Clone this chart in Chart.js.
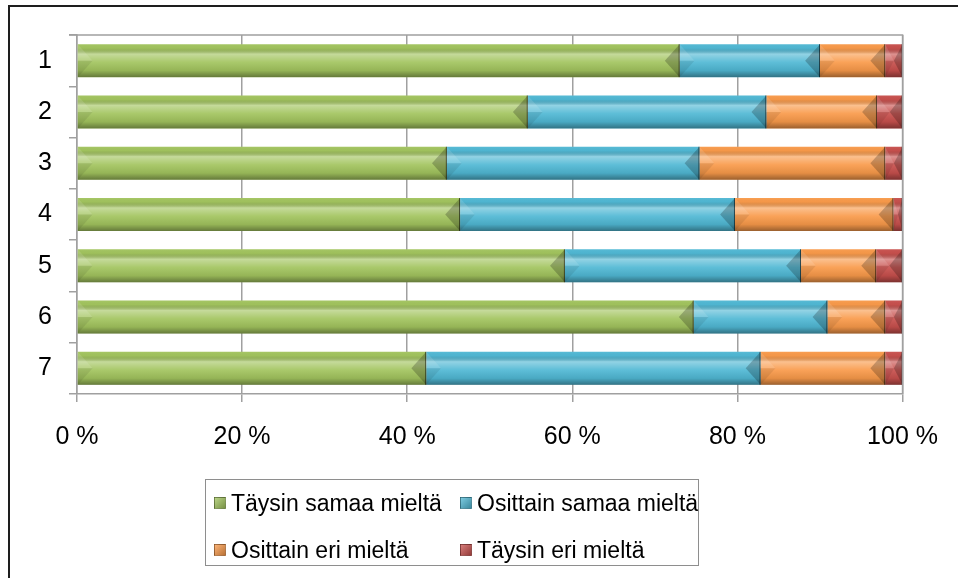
<!DOCTYPE html>
<html><head><meta charset="utf-8">
<script src="https://cdn.jsdelivr.net/npm/chart.js@4/dist/chart.umd.min.js"></script>
<style>
html,body{margin:0;padding:0;background:#fff;overflow:hidden;width:958px;height:578px;position:relative;font-family:"Liberation Sans",Arial,sans-serif;}
#frame{position:absolute;left:8px;top:5px;width:970px;height:600px;border-left:2px solid #1e1e1e;border-top:2px solid #1e1e1e;}
#wrap{position:absolute;left:0;top:0;width:958px;height:578px;}
#legend{position:absolute;left:205px;top:479px;width:494px;height:87px;border:1px solid #8e8e8e;box-sizing:border-box;}
.item{position:absolute;display:flex;align-items:center;height:30px;font-size:23px;color:#000;white-space:nowrap;}
.sw{width:12px;height:12px;margin-right:5px;box-sizing:border-box;}
</style></head><body>
<div id="frame"></div>
<div id="wrap"><canvas id="c" width="958" height="578"></canvas></div>
<div id="legend"></div>
<script>
const categories = ['1','2','3','4','5','6','7'];
const seriesNames = ['Täysin samaa mieltä','Osittain samaa mieltä','Osittain eri mieltä','Täysin eri mieltä'];
const taysinSamaa   = [73.0, 54.6, 44.8, 46.4, 59.1, 74.7, 42.3];
const osittainSamaa = [17.0, 28.9, 30.6, 33.3, 28.6, 16.2, 40.5];
const osittainEri   = [7.9, 13.4, 22.5, 19.2, 9.1, 7.0, 15.1];
const taysinEri     = [2.1, 3.1, 2.1, 1.1, 3.2, 2.1, 2.1];
const xTicks = [0, 20, 40, 60, 80, 100];

const colors = ['#a2c45e','#50b8d4','#f99a4a','#c8504d'];
const FONT = '"Liberation Sans", Arial, sans-serif';

const bevel = {
  id:'bevel',
  afterDatasetsDraw(chart){
    const ctx = chart.ctx;
    chart.data.datasets.forEach((ds,i)=>{
      const meta = chart.getDatasetMeta(i);
      meta.data.forEach(el=>{
        const p = el.getProps(['x','y','base','height'], true);
        const l=Math.min(p.x,p.base), r=Math.max(p.x,p.base), t=p.y-p.height/2, b=p.y+p.height/2;
        const w=r-l; if(w<=0) return;
        ctx.save();
        const g=ctx.createLinearGradient(0,t,0,b);
        g.addColorStop(0,'rgba(255,255,255,0.05)');
        g.addColorStop(0.12,'rgba(0,0,0,0.02)');
        g.addColorStop(0.3,'rgba(255,255,255,0.38)');
        g.addColorStop(0.55,'rgba(255,255,255,0.08)');
        g.addColorStop(0.8,'rgba(0,0,0,0.08)');
        g.addColorStop(1,'rgba(0,0,0,0.38)');
        ctx.fillStyle=g; ctx.fillRect(l,t,w,b-t);
        const bv=Math.min(p.height*0.45, w/2);
        ctx.beginPath(); ctx.moveTo(l,t); ctx.lineTo(l+bv,p.y); ctx.lineTo(l,p.y); ctx.closePath();
        ctx.fillStyle='rgba(255,255,255,0.12)'; ctx.fill();
        ctx.beginPath(); ctx.moveTo(l,b); ctx.lineTo(l+bv,p.y); ctx.lineTo(l,p.y); ctx.closePath();
        ctx.fillStyle='rgba(0,0,0,0.08)'; ctx.fill();
        ctx.beginPath(); ctx.moveTo(r,t); ctx.lineTo(r-bv,p.y); ctx.lineTo(r,b); ctx.closePath();
        ctx.fillStyle='rgba(0,0,0,0.22)'; ctx.fill();
        ctx.fillStyle='rgba(0,0,0,0.55)'; ctx.fillRect(r-1,t,1,b-t);
        ctx.restore();
      });
    });
  }
};
const plotBorder = {
  id:'plotBorder',
  afterDraw(chart){
    const {ctx, chartArea:a} = chart;
    ctx.save();
    ctx.strokeStyle='#a0a0a0'; ctx.lineWidth=1.5;
    ctx.beginPath(); ctx.moveTo(a.left-8,a.top); ctx.lineTo(a.right,a.top); ctx.lineTo(a.right,a.bottom); ctx.stroke();
    ctx.restore();
  }
};

const datasets = [taysinSamaa, osittainSamaa, osittainEri, taysinEri].map((d,i)=>({
  label: seriesNames[i], data: d, backgroundColor: colors[i], borderWidth: 0,
  barPercentage: 0.9, categoryPercentage: 0.715
}));

const chart = new Chart(document.getElementById('c'), {
  type:'bar',
  data:{labels: categories, datasets},
  options:{
    indexAxis:'y', responsive:false, animation:false, devicePixelRatio:1,
    layout:{padding:{left:0, top:35, right:55, bottom:108}},
    plugins:{legend:{display:false}, tooltip:{enabled:false}},
    scales:{
      x:{type:'linear', stacked:true, min:0, max:100,
        afterBuildTicks(s){ s.ticks = xTicks.map(v=>({value:v})); },
        ticks:{callback:v=>v+' %', color:'#000', font:{size:25, family:FONT}, padding:20, maxRotation:0},
        grid:{color:'#a0a0a0', lineWidth:1.5, tickLength:8},
        border:{color:'#a0a0a0', width:1.5},
        afterFit(s){ s.height = 76; }
      },
      y:{type:'category', stacked:true,
        ticks:{color:'#000', font:{size:25, family:FONT}, padding:17},
        grid:{drawOnChartArea:false, tickLength:8, color:'#a0a0a0', lineWidth:1.5, offset:true},
        border:{color:'#a0a0a0', width:1.5},
        afterFit(s){ s.width = 77; }
      }
    }
  },
  plugins:[bevel, plotBorder]
});

const pos = [[8,502],[254,502],[8,549],[254,549]];
const leg = document.getElementById('legend');
chart.data.datasets.forEach((ds,i)=>{
  const it = document.createElement('div');
  it.className='item';
  it.style.left = pos[i][0]+'px';
  it.style.top = (pos[i][1]-479-15)+'px';
  const sw = document.createElement('span');
  sw.className='sw';
  sw.style.background = 'linear-gradient(135deg, rgba(255,255,255,0.25), rgba(0,0,0,0.25)), '+ds.backgroundColor;
  sw.style.border = '1px solid rgba(0,0,0,0.25)';
  const tx = document.createElement('span');
  tx.textContent = ds.label;
  it.appendChild(sw); it.appendChild(tx);
  leg.appendChild(it);
});
</script>
</body></html>
